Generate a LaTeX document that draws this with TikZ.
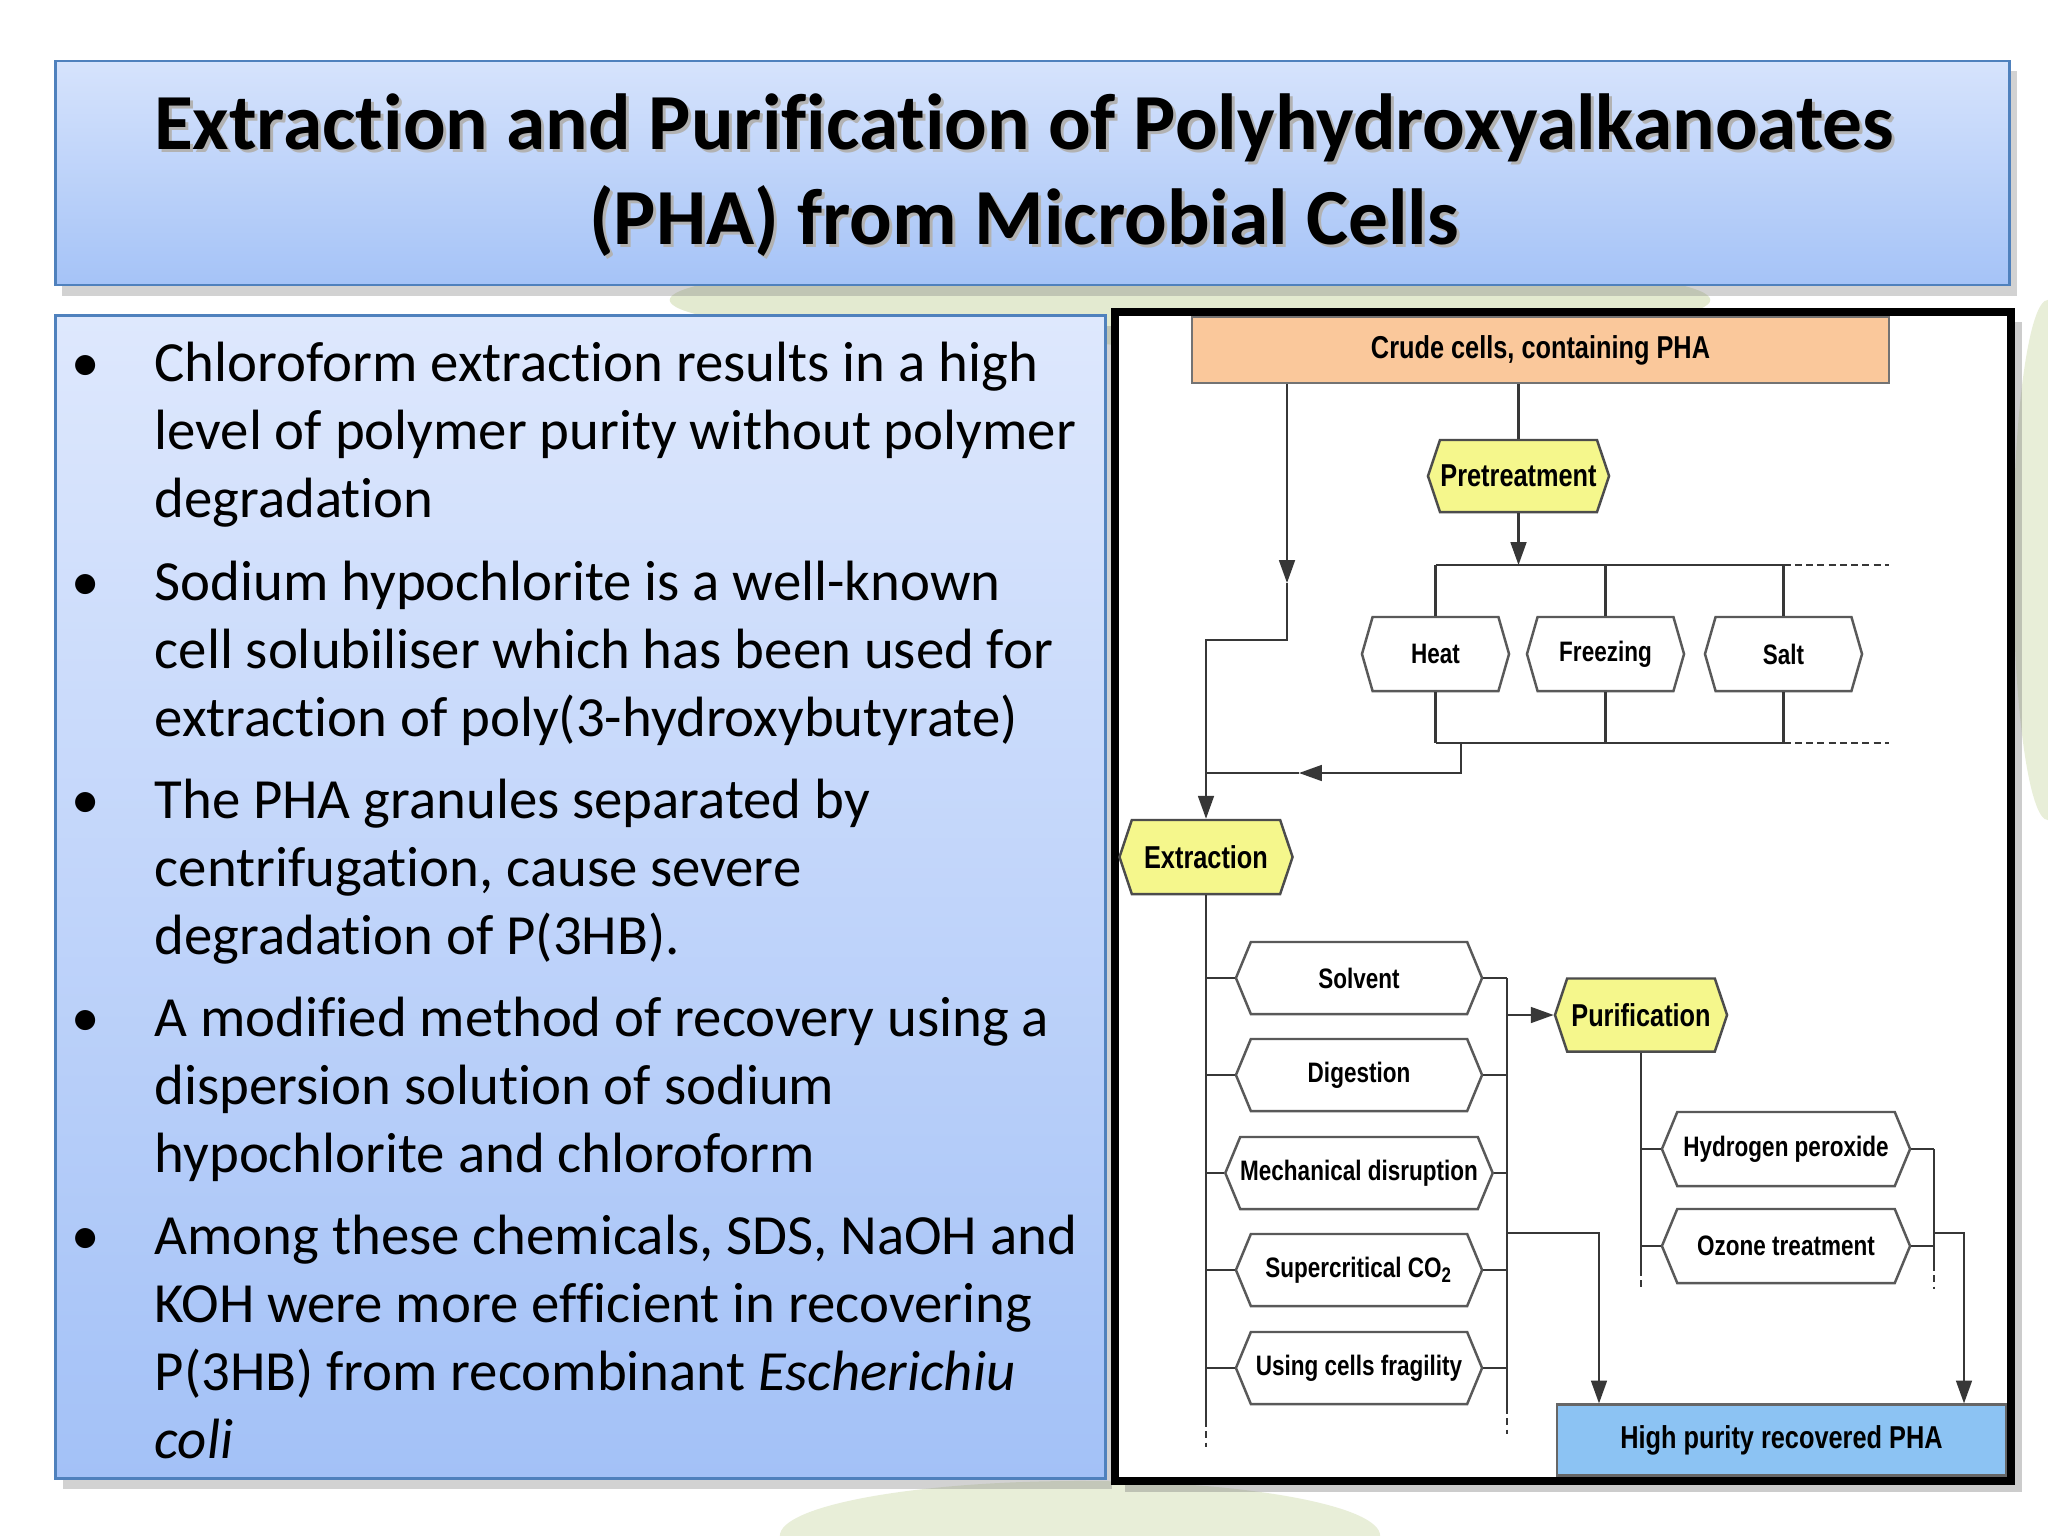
\documentclass[tikz,border=0pt]{standalone}
\usepackage{fontspec}
\setmainfont{Carlito}[Ligatures=NoCommon]
\newfontfamily\chartfont[FakeStretch=0.8]{Liberation Sans}
\usetikzlibrary{arrows.meta,positioning,calc,shapes.symbols,shadows}

\definecolor{titletop}{RGB}{214,227,252}
\definecolor{titlebot}{RGB}{165,195,247}
\definecolor{boxtop}{RGB}{222,232,253}
\definecolor{boxbot}{RGB}{163,193,247}
\definecolor{boxrule}{RGB}{79,129,189}
\definecolor{crudefill}{RGB}{250,200,155}
\definecolor{stepfill}{RGB}{245,247,140}
\definecolor{phafill}{RGB}{140,195,243}
\definecolor{leaf}{RGB}{205,218,170}
\definecolor{wirecol}{RGB}{55,55,55}

\newcommand{\bitem}{\par\noindent\llap{\textbullet\hskip 0.55cm}}
\newcommand{\tightspace}{\frenchspacing\spaceskip=0.226em\relax\parskip=4pt\relax}

\begin{document}
\begin{tikzpicture}[
  x=0.01cm, y=-0.01cm,
  >={Triangle[length=6.5pt,width=4.5pt]},
  panel/.style={draw=boxrule, line width=0.7pt,
    drop shadow={opacity=0.35, shadow xshift=2pt, shadow yshift=-3pt}},
  titletext/.style={align=center, font=\bfseries\fontsize{22.6}{27}\selectfont},
  bulletlist/.style={text width=10cm, align=left, inner sep=0pt,
    font=\fontsize{16.15}{19.35}\selectfont},
  chartframe/.style={draw=black, line width=2.3pt, fill=white,
    drop shadow={opacity=0.4, shadow xshift=3pt, shadow yshift=-3pt}},
  crudebox/.style={rectangle, draw=black!55, fill=crudefill, line width=0.6pt,
    minimum width=6.97cm, minimum height=0.66cm,
    font=\chartfont\bfseries\fontsize{9}{10}\selectfont},
  stepbox/.style={signal, signal to=east and west, signal pointer angle=143,
    draw=black!70, fill=stepfill, line width=0.7pt, inner sep=0pt,
    font=\chartfont\bfseries\fontsize{9}{10}\selectfont},
  optbox/.style={signal, signal to=east and west, signal pointer angle=135,
    draw=black!65, fill=white, line width=0.7pt, inner sep=0pt,
    minimum width=2.46cm, minimum height=0.72cm,
    font=\chartfont\bfseries\fontsize{8}{9}\selectfont},
  phabox/.style={rectangle, draw=black!60, fill=phafill, line width=0.6pt,
    minimum width=4.49cm, minimum height=0.71cm,
    font=\chartfont\bfseries\fontsize{9}{10}\selectfont},
  wire/.style={draw=wirecol, line width=0.6pt},
  wireend/.style={wire, dash pattern=on 2pt off 1.2pt}]

\useasboundingbox[fill=white] (0,0) rectangle (2048,1536);

% ===== faded background =====
\fill[leaf, opacity=0.55] (1190,300) ellipse [x radius=5.2cm, y radius=0.45cm];
\fill[leaf, opacity=0.45] (1080,1536) ellipse [x radius=3cm, y radius=0.55cm];
\fill[leaf, opacity=0.45] (2048,560) ellipse [x radius=0.35cm, y radius=2.6cm];

% ===== title =====
\node[panel, top color=titletop, bottom color=titlebot,
  minimum width=19.53cm, minimum height=2.24cm] (titlebox) at (1032.5,173) {};
\node[titletext, text=black!30] (titleshade) at (1027,178)
  {Extraction and Purification of Polyhydroxyalkanoates\\(PHA) from Microbial Cells};
\node[titletext] (title) at (1024,175)
  {Extraction and Purification of Polyhydroxyalkanoates\\(PHA) from Microbial Cells};

% ===== text panel =====
\node[panel, top color=boxtop, bottom color=boxbot,
  minimum width=10.49cm, minimum height=11.62cm] (textpanel) at (580.5,897) {};
\node[bulletlist, anchor=north west] (points) at (154,299) {\tightspace
  \bitem Chloroform extraction results in a high\\
    level of polymer purity without polymer\\
    degradation
  \bitem Sodium hypochlorite is a well-known\\
    cell solubiliser which has been used for\\
    extraction of poly(3-hydroxybutyrate)
  \bitem The PHA granules separated by\\
    centrifugation, cause severe\\
    degradation of P(3HB).
  \bitem A modified method of recovery using a\\
    dispersion solution of sodium\\
    hypochlorite and chloroform
  \bitem Among these chemicals, SDS, NaOH and\\
    KOH were more efficient in recovering\\
    P(3HB) from recombinant \textit{Escherichiu}\\
    \textit{coli}};

% ===== flow chart =====
\node[chartframe, minimum width=8.96cm, minimum height=11.69cm] (chart) at (1563,896.5) {};

\node[crudebox] (crude) at (1540.5,350) {Crude cells, containing PHA};
\node[stepbox, minimum width=1.81cm, minimum height=0.72cm] (pretreat) at (1518.5,476) {Pretreatment};

\node[optbox, signal pointer angle=148, minimum width=1.47cm, minimum height=0.74cm] (heat)   at (1435.5,654) {Heat};
\node[optbox, signal pointer angle=148, minimum width=1.57cm, minimum height=0.74cm] (freeze) at (1605.5,654) {Freezing};
\node[optbox, signal pointer angle=148, minimum width=1.57cm, minimum height=0.74cm] (salt)   at (1783.5,654) {Salt};

\node[stepbox, minimum width=1.73cm, minimum height=0.74cm] (extract) at (1206,857) {Extraction};
\node[optbox] (solvent) at (1359,978)  {Solvent};
\node[optbox] (digest)  at (1359,1075) {Digestion};
\node[optbox] (mech)    at (1359,1173) {Mechanical disruption};
\node[optbox] (scco2)   at (1359,1270) {Supercritical CO\textsubscript{2}};
\node[optbox] (fragil)  at (1359,1368) {Using cells fragility};

\node[stepbox, minimum width=1.72cm, minimum height=0.73cm] (purif) at (1641,1015) {Purification};
\node[optbox, minimum width=2.48cm, minimum height=0.74cm] (hperox) at (1786,1149) {Hydrogen peroxide};
\node[optbox, minimum width=2.48cm, minimum height=0.74cm] (ozone)  at (1786,1246) {Ozone treatment};

\node[phabox] (hpure) at (1781.5,1440) {High purity recovered PHA};

% crude cells -> extraction (direct)
\coordinate (lmid)  at (1287,583);
\coordinate (lturn) at (1287,640);
\draw[wire,->] (crude.south -| lmid) -- (lmid);
\draw[wire,->] (lmid) -- (lturn) -| (extract.north);

% crude cells -> pretreatment -> options
\coordinate (tbus)    at (0,565);
\coordinate (tbusend) at (1889,565);
\coordinate (bbus)    at (0,743);
\coordinate (bbusend) at (1889,743);
\draw[wire] (crude.south -| pretreat.north) -- (pretreat.north);
\draw[wire,->] (pretreat.south) -- (pretreat.south |- tbus);
\draw[wire] (heat.north |- tbus) -- (salt.north |- tbus);
\draw[wireend] (salt.north |- tbus) -- (tbusend);
\draw[wire] (heat.south |- bbus) -- (salt.south |- bbus);
\draw[wireend] (salt.south |- bbus) -- (bbusend);
\foreach \s in {heat,freeze,salt} {
  \draw[wire] (\s.north |- tbus) -- (\s.north);
  \draw[wire] (\s.south) -- (\s.south |- bbus);
}
\coordinate (bdrop) at (1461,743);
\coordinate (bjoin) at (1461,773);
\coordinate (bmid)  at (1299,773);
\draw[wire,->] (bdrop) -- (bjoin) -- (bmid);
\draw[wire] (bmid) -- (bmid -| extract.north);

% extraction methods
\coordinate (colcut) at (0,1420);
\coordinate (colend) at (0,1447);
\coordinate (rcol)    at (1507,1407);
\coordinate (rcolend) at (1507,1434);
\draw[wire] (extract.south) -- (extract.south |- colcut);
\draw[wireend] (extract.south |- colcut) -- (extract.south |- colend);
\draw[wire] (solvent.east -| rcol) -- (rcol);
\draw[wireend] (rcol) -- (rcolend);
\foreach \s in {solvent,digest,mech,scco2,fragil} {
  \draw[wire] (\s.west -| extract.south) -- (\s.west);
  \draw[wire] (\s.east) -- (\s.east -| rcol);
}
\draw[wire,->] (rcol |- purif.west) -- (purif.west);
\coordinate (xout) at (1599,1233);
\draw[wire,->] (rcol |- xout) -| (hpure.north -| xout);

% purification methods
\coordinate (pcut) at (0,1269);
\coordinate (pend) at (0,1291);
\coordinate (qcol)    at (1934,1264);
\coordinate (qcolend) at (1934,1289);
\draw[wire] (purif.south) -- (purif.south |- pcut);
\draw[wireend] (purif.south |- pcut) -- (purif.south |- pend);
\draw[wire] (hperox.east -| qcol) -- (qcol);
\draw[wireend] (qcol) -- (qcolend);
\foreach \s in {hperox,ozone} {
  \draw[wire] (\s.west -| purif.south) -- (\s.west);
  \draw[wire] (\s.east) -- (\s.east -| qcol);
}
\coordinate (pout) at (1964,1233);
\draw[wire,->] (qcol |- pout) -| (hpure.north -| pout);

\end{tikzpicture}
\end{document}
